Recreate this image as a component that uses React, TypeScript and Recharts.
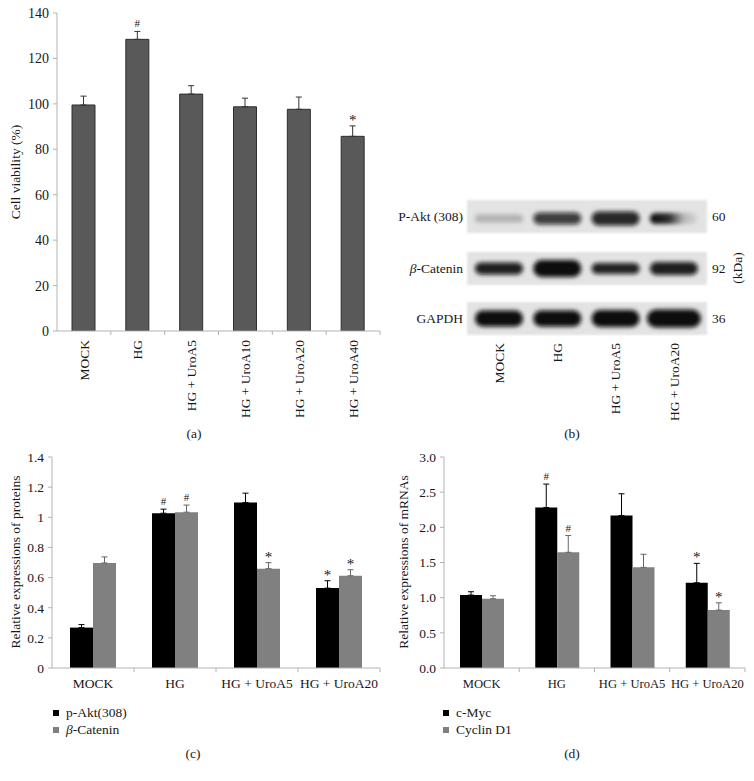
import React from 'react';
import { BarChart, Bar, XAxis, YAxis, ErrorBar, LabelList } from 'recharts';

// (a) cell viability
const viabilityGroups = ['MOCK', 'HG', 'HG + UroA5', 'HG + UroA10', 'HG + UroA20', 'HG + UroA40'];
const viabilityMean = [99.5, 128.4, 104.3, 98.7, 97.6, 85.7];
const viabilityErr = [3.9, 3.5, 3.7, 3.8, 5.4, 4.6];
const viabilitySig = ['', '#', '', '', '', '*'];
const viabilityTicks = [0, 20, 40, 60, 80, 100, 120, 140];

// (b) western blot
const blotLanes = ['MOCK', 'HG', 'HG + UroA5', 'HG + UroA20'];
const blotProteins = ['P-Akt (308)', 'β-Catenin', 'GAPDH'];
const blotKDa = ['60', '92', '36'];
const pAktBand = [0.22, 0.78, 0.88, 0.85];
const pAktBandHeight = [8, 12, 14, 11];
const cateninBand = [0.92, 1, 0.9, 0.92];
const cateninBandHeight = [12, 17, 11, 13];
const gapdhBand = [1, 1, 1, 1];
const gapdhBandHeight = [16, 16, 17, 18];

// (c) protein expression
const groups = ['MOCK', 'HG', 'HG + UroA5', 'HG + UroA20'];
const pAktMean = [0.268, 1.027, 1.098, 0.53];
const pAktErr = [0.02, 0.027, 0.062, 0.049];
const pAktSig = ['', '#', '', '*'];
const cateninMean = [0.697, 1.034, 0.659, 0.612];
const cateninErr = [0.04, 0.047, 0.04, 0.04];
const cateninSig = ['', '#', '*', '*'];
const proteinTicks = [0, 0.2, 0.4, 0.6, 0.8, 1, 1.2, 1.4];

// (d) mRNA expression
const cMycMean = [1.037, 2.282, 2.168, 1.212];
const cMycErr = [0.047, 0.333, 0.309, 0.276];
const cMycSig = ['', '#', '', '*'];
const cyclinMean = [0.984, 1.645, 1.431, 0.823];
const cyclinErr = [0.043, 0.238, 0.186, 0.104];
const cyclinSig = ['', '#', '', '*'];
const mrnaTicks = [0, 0.5, 1, 1.5, 2, 2.5, 3];

const FONT = '"Liberation Serif", "Times New Roman", serif';
const AXIS = '#b3b3b3';
const TEXT = '#1a1718';
const FS = 13.5;

const viabilityData = viabilityGroups.map((g, i) => ({
  name: g,
  value: viabilityMean[i],
  err: [0, viabilityErr[i]],
  sig: viabilitySig[i],
}));

const proteinData = groups.map((g, i) => ({
  name: g,
  a: pAktMean[i],
  aErr: [0, pAktErr[i]],
  aSig: pAktSig[i],
  b: cateninMean[i],
  bErr: [0, cateninErr[i]],
  bSig: cateninSig[i],
}));

const mrnaData = groups.map((g, i) => ({
  name: g,
  a: cMycMean[i],
  aErr: [0, cMycErr[i]],
  aSig: cMycSig[i],
  b: cyclinMean[i],
  bErr: [0, cyclinErr[i]],
  bSig: cyclinSig[i],
}));

function CatTick(props: any) {
  const { x, y, payload, index, band, count, rotated, fs = FS } = props;
  const half = band / 2;
  return (
    <g>
      {index > 0 && <line x1={x - half} y1={y} x2={x - half} y2={y + 4} stroke={AXIS} />}
      {index === count - 1 && <line x1={x + half} y1={y} x2={x + half} y2={y + 4} stroke={AXIS} />}
      {rotated ? (
        <text
          x={x}
          y={y + 9}
          dy="0.35em"
          transform={`rotate(-90, ${x}, ${y + 9})`}
          textAnchor="end"
          fontFamily={FONT}
          fontSize={fs}
          fill={TEXT}
        >
          {payload.value}
        </text>
      ) : (
        <text x={x} y={y + 20} textAnchor="middle" fontFamily={FONT} fontSize={fs} fill={TEXT}>
          {payload.value}
        </text>
      )}
    </g>
  );
}

// star / hash above the error bar, placed with the bar's own pixel scale
const sigContent = (means: number[], errs: number[]) => (props: any) => {
  const { x, y, width, height, value, index } = props;
  if (!value) return null;
  const pxPerUnit = height / means[index];
  const top = y - errs[index] * pxPerUnit;
  const hash = value === '#';
  return (
    <text
      x={x + width / 2}
      y={top - (hash ? 4 : 1)}
      textAnchor="middle"
      fontFamily={FONT}
      fontSize={hash ? 11 : 15}
      fill={TEXT}
    >
      {value}
    </text>
  );
};

function VLabel({ cx, cy, children }: any) {
  return (
    <div
      style={{
        position: 'absolute',
        left: cx,
        top: cy,
        transform: 'translate(-50%, -50%) rotate(-90deg)',
        whiteSpace: 'nowrap',
        fontSize: FS,
        lineHeight: 1,
      }}
    >
      {children}
    </div>
  );
}

function Caption({ cx, cy, text }: any) {
  return (
    <div
      style={{
        position: 'absolute',
        left: cx,
        top: cy,
        transform: 'translate(-50%, -50%)',
        fontSize: FS,
        lineHeight: 1,
      }}
    >
      {text}
    </div>
  );
}

function Legend({ left, top, items }: any) {
  return (
    <div style={{ position: 'absolute', left, top, fontSize: FS, lineHeight: '17px' }}>
      {items.map((it: any, i: number) => (
        <div key={i} style={{ display: 'flex', alignItems: 'center' }}>
          <span style={{ width: 6, height: 6, background: it.color, marginRight: 7, display: 'inline-block' }} />
          <span>{it.label}</span>
        </div>
      ))}
    </div>
  );
}

function Blot() {
  const stripX = 87;
  const stripW = 240;
  const stripH = 33;
  const stripTops = [10, 62, 112];
  const laneX = (i: number) => stripX + 32 + i * 58.3;
  const rows = [
    { level: pAktBand, h: pAktBandHeight },
    { level: cateninBand, h: cateninBandHeight },
    { level: gapdhBand, h: gapdhBandHeight },
  ];
  return (
    <svg width={374} height={232} style={{ position: 'absolute', left: 380, top: 190 }}>
      <defs>
        <filter id="soft" x="-20%" y="-60%" width="140%" height="220%">
          <feGaussianBlur stdDeviation="2" />
        </filter>
        <filter id="edge" x="-5%" y="-20%" width="110%" height="140%">
          <feGaussianBlur stdDeviation="0.8" />
        </filter>
        <linearGradient id="fade" x1="0" x2="1" y1="0" y2="0">
          <stop offset="0" stopColor="#000" stopOpacity="0.95" />
          <stop offset="0.4" stopColor="#000" stopOpacity="0.8" />
          <stop offset="0.7" stopColor="#000" stopOpacity="0.2" />
          <stop offset="1" stopColor="#000" stopOpacity="0.05" />
        </linearGradient>
      </defs>
      {rows.map((row, r) => {
        const top = stripTops[r];
        const cy = top + stripH / 2;
        return (
          <g key={r}>
            <rect x={stripX} y={top} width={stripW} height={stripH} fill="#e3e3e3" filter="url(#edge)" />
            {row.level.map((lv, i) => {
              const h = row.h[i];
              const w = r === 2 && i === 3 ? 54 : 48;
              const fadeLane = r === 0 && i === 3;
              return (
                <rect
                  key={i}
                  x={laneX(i) - w / 2}
                  y={cy - h / 2 + (r === 0 ? 2 : 0)}
                  width={w}
                  height={h}
                  rx={h / 2}
                  fill={fadeLane ? 'url(#fade)' : '#0a0a0a'}
                  fillOpacity={fadeLane ? 1 : lv}
                  filter="url(#soft)"
                />
              );
            })}
            <text x={83} y={cy} dy="0.35em" textAnchor="end" fontFamily={FONT} fontSize={FS} fill={TEXT}>
              {r === 1 ? (
                <>
                  <tspan fontStyle="italic">β</tspan>
                  <tspan>-Catenin</tspan>
                </>
              ) : (
                blotProteins[r]
              )}
            </text>
            <text x={332} y={cy} dy="0.35em" fontFamily={FONT} fontSize={FS} fill={TEXT}>
              {blotKDa[r]}
            </text>
          </g>
        );
      })}
      <text
        x={357}
        y={78}
        dy="0.35em"
        textAnchor="middle"
        transform="rotate(-90, 357, 78)"
        fontFamily={FONT}
        fontSize={FS}
        fill={TEXT}
      >
        (kDa)
      </text>
      {blotLanes.map((l, i) => (
        <text
          key={l}
          x={laneX(i)}
          y={153}
          dy="0.35em"
          textAnchor="end"
          transform={`rotate(-90, ${laneX(i)}, 153)`}
          fontFamily={FONT}
          fontSize={FS}
          fill={TEXT}
        >
          {l}
        </text>
      ))}
    </svg>
  );
}

const yTick = { fontSize: FS, fontFamily: FONT, fill: TEXT };

export default function App() {
  return (
    <div
      style={{
        position: 'absolute',
        left: 0,
        top: 0,
        width: 754,
        height: 781,
        background: '#fff',
        fontFamily: FONT,
        color: TEXT,
        overflow: 'hidden',
      }}
    >
      {/* (a) */}
      <div style={{ position: 'absolute', left: 0, top: 0 }}>
        <BarChart width={382} height={420} data={viabilityData} margin={{ top: 13, right: 2, left: 0, bottom: 0 }}>
          <YAxis
            width={57}
            domain={[0, 140]}
            ticks={viabilityTicks}
            stroke={AXIS}
            tickSize={4}
            tickMargin={4}
            tick={{ ...yTick, fontSize: 14 }}
            allowDataOverflow
          />
          <XAxis
            dataKey="name"
            height={89}
            interval={0}
            stroke={AXIS}
            tickLine={false}
            tickSize={0}
            tickMargin={0}
            tick={<CatTick band={(382 - 57 - 2) / 6} count={6} rotated />}
          />
          <Bar dataKey="value" barSize={23} fill="#595959" stroke="#2e2e2e" strokeWidth={1} isAnimationActive={false}>
            <ErrorBar dataKey="err" width={3} stroke="#333" strokeWidth={1} direction="y" />
            <LabelList dataKey="sig" content={sigContent(viabilityMean, viabilityErr)} />
          </Bar>
        </BarChart>
      </div>
      <VLabel cx={16} cy={172}>Cell viability (%)</VLabel>
      <Caption cx={194} cy={434} text="(a)" />

      {/* (b) */}
      <Blot />
      <Caption cx={572} cy={434} text="(b)" />

      {/* (c) */}
      <div style={{ position: 'absolute', left: 0, top: 444 }}>
        <BarChart
          width={382}
          height={254}
          data={proteinData}
          margin={{ top: 13, right: 2, left: 0, bottom: 0 }}
          barGap={0}
        >
          <YAxis
            width={52}
            domain={[0, 1.4]}
            ticks={proteinTicks}
            stroke={AXIS}
            tickSize={4}
            tickMargin={4}
            tick={yTick}
            tickFormatter={(v: number) => String(v)}
            allowDataOverflow
          />
          <XAxis
            dataKey="name"
            height={30}
            interval={0}
            stroke={AXIS}
            tickLine={false}
            tickSize={0}
            tickMargin={0}
            tick={<CatTick band={(382 - 52 - 2) / 4} count={4} />}
          />
          <Bar dataKey="a" barSize={23} fill="#000" isAnimationActive={false}>
            <ErrorBar dataKey="aErr" width={3} stroke="#000" strokeWidth={1} direction="y" />
            <LabelList dataKey="aSig" content={sigContent(pAktMean, pAktErr)} />
          </Bar>
          <Bar dataKey="b" barSize={23} fill="#808080" isAnimationActive={false}>
            <ErrorBar dataKey="bErr" width={3} stroke="#666" strokeWidth={1} direction="y" />
            <LabelList dataKey="bSig" content={sigContent(cateninMean, cateninErr)} />
          </Bar>
        </BarChart>
      </div>
      <VLabel cx={16} cy={562}>Relative expressions of proteins</VLabel>
      <Legend
        left={53}
        top={704}
        items={[
          { color: '#000', label: 'p-Akt(308)' },
          {
            color: '#808080',
            label: (
              <>
                <i>β</i>-Catenin
              </>
            ),
          },
        ]}
      />
      <Caption cx={193} cy={754} text="(c)" />

      {/* (d) */}
      <div style={{ position: 'absolute', left: 392, top: 444 }}>
        <BarChart
          width={355}
          height={254}
          data={mrnaData}
          margin={{ top: 13, right: 2, left: 0, bottom: 0 }}
          barGap={0}
        >
          <YAxis
            width={52}
            domain={[0, 3]}
            ticks={mrnaTicks}
            stroke={AXIS}
            tickSize={4}
            tickMargin={4}
            tick={yTick}
            tickFormatter={(v: number) => v.toFixed(1)}
            allowDataOverflow
          />
          <XAxis
            dataKey="name"
            height={30}
            interval={0}
            stroke={AXIS}
            tickLine={false}
            tickSize={0}
            tickMargin={0}
            tick={<CatTick band={(355 - 52 - 2) / 4} count={4} fs={12.6} />}
          />
          <Bar dataKey="a" barSize={22} fill="#000" isAnimationActive={false}>
            <ErrorBar dataKey="aErr" width={3} stroke="#000" strokeWidth={1} direction="y" />
            <LabelList dataKey="aSig" content={sigContent(cMycMean, cMycErr)} />
          </Bar>
          <Bar dataKey="b" barSize={22} fill="#808080" isAnimationActive={false}>
            <ErrorBar dataKey="bErr" width={3} stroke="#666" strokeWidth={1} direction="y" />
            <LabelList dataKey="bSig" content={sigContent(cyclinMean, cyclinErr)} />
          </Bar>
        </BarChart>
      </div>
      <VLabel cx={404} cy={562}>Relative expressions of mRNAs</VLabel>
      <Legend
        left={443}
        top={704}
        items={[
          { color: '#000', label: 'c-Myc' },
          { color: '#808080', label: 'Cyclin D1' },
        ]}
      />
      <Caption cx={572} cy={754} text="(d)" />
    </div>
  );
}
